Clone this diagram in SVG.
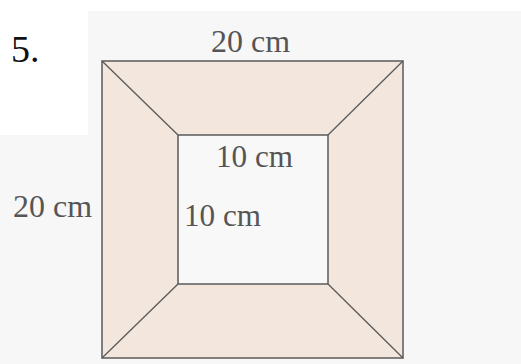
<svg xmlns="http://www.w3.org/2000/svg" width="521" height="364" viewBox="0 0 521 364">
<style>
.bg{fill:#f7f7f7}
.frame{fill:#f3e6dc;stroke:#5a5a5a;stroke-width:1.5;stroke-linejoin:miter}
.hole{fill:#f8f8f8;stroke:#5a5a5a;stroke-width:1.5}
.edge{stroke:#5a5a5a;stroke-width:1.3;fill:none}
.lbl{font-family:"Liberation Serif","Times New Roman",serif;font-size:32px;fill:#555}
.num{font-family:"Liberation Serif","Times New Roman",serif;font-size:38px;fill:#111}
</style>
<rect x="0" y="0" width="521" height="364" fill="#ffffff"/>
<path class="bg" d="M88 11H521V364H0V135H88Z"/>
<g id="frame">
<rect class="frame" x="102" y="61" width="301" height="297"/>
<rect class="hole" x="178" y="135" width="150" height="149"/>
</g>
<g id="connectors">
<line class="edge" x1="102" y1="61" x2="178" y2="135"/>
<line class="edge" x1="403" y1="61" x2="328" y2="135"/>
<line class="edge" x1="102" y1="358" x2="178" y2="284"/>
<line class="edge" x1="403" y1="358" x2="328" y2="284"/>
</g>
<g id="labels">
<text class="num" x="11" y="62">5.</text>
<text class="lbl" x="211" y="52" textLength="79" lengthAdjust="spacingAndGlyphs">20 cm</text>
<text class="lbl" x="13" y="217" textLength="79" lengthAdjust="spacingAndGlyphs">20 cm</text>
<text class="lbl" x="216" y="167" textLength="77" lengthAdjust="spacingAndGlyphs">10 cm</text>
<text class="lbl" x="184" y="226" textLength="77" lengthAdjust="spacingAndGlyphs">10 cm</text>
</g>
</svg>
